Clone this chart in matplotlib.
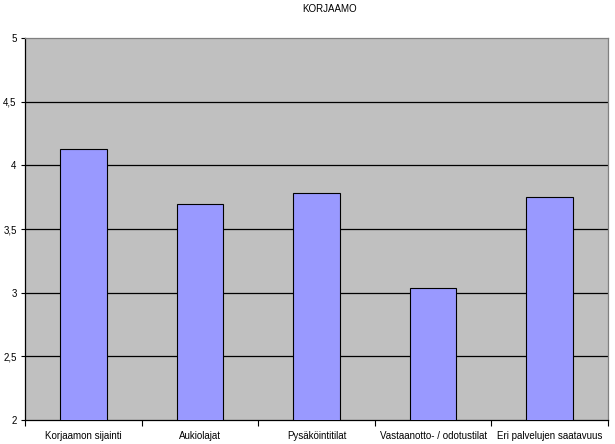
import numpy as np
import matplotlib.pyplot as plt
from matplotlib.ticker import FixedLocator, FuncFormatter

plt.rcParams['font.family'] = ['Liberation Sans', 'DejaVu Sans']

# Data
categories = ['Korjaamon sijainti', 'Aukiolajat', 'Pysäköintitilat',
              'Vastaanotto- / odotustilat', 'Eri palvelujen saatavuus']
values = [4.13, 3.70, 3.78, 3.04, 3.75]
y_ticks = [2, 2.5, 3, 3.5, 4, 4.5, 5]

fig = plt.figure(figsize=(6.15, 4.44), dpi=100)
ax = fig.add_axes([25 / 615, 24 / 444, 583 / 615, 382 / 444])
ax.set_facecolor('#C0C0C0')

x = np.arange(len(categories))
ax.bar(x, values, width=0.4, color='#9999FF', edgecolor='black',
       linewidth=0.8, zorder=3)

ax.set_xlim(-0.5, len(categories) - 0.5)
ax.set_ylim(2, 5)

# gridlines
for t in y_ticks[1:-1]:
    ax.axhline(t, color='black', linewidth=0.9, zorder=1)

ax.yaxis.set_major_locator(FixedLocator(y_ticks))
ax.yaxis.set_major_formatter(FuncFormatter(
    lambda v, p: ('%g' % v).replace('.', ',')))
ax.tick_params(axis='y', direction='out', length=3, width=0.8,
               labelsize=7, pad=3)

# category ticks between the bars, labels centred under bars
ax.set_xticks(np.arange(-0.5, len(categories), 1.0))
ax.set_xticklabels([])
ax.set_xticks(x, minor=True)
ax.set_xticklabels(categories, minor=True, fontsize=7)
ax.tick_params(axis='x', which='major', direction='out', length=4, width=0.8)
ax.tick_params(axis='x', which='minor', length=0, pad=8)

ax.spines['left'].set_color('black')
ax.spines['bottom'].set_color('black')
ax.spines['top'].set_color('#808080')
ax.spines['right'].set_color('#808080')
for s in ax.spines.values():
    s.set_linewidth(0.9)

fig.text(330 / 615, 1 - 9 / 444, 'KORJAAMO', ha='center', va='center',
         fontsize=7)

fig.savefig('out.png', dpi=100, facecolor='white')
